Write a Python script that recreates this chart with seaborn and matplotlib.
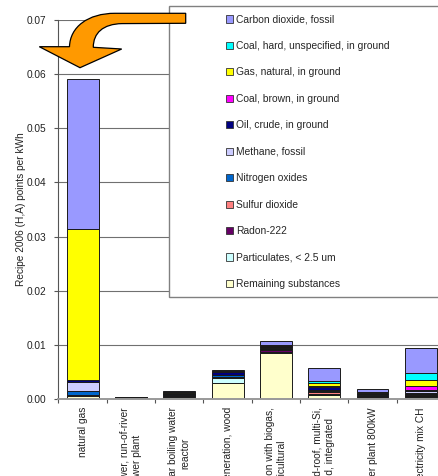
import numpy as np
import pandas as pd
import matplotlib
matplotlib.use("Agg")
import matplotlib.pyplot as plt
from matplotlib.patches import Patch, Rectangle, PathPatch
from matplotlib.path import Path
from matplotlib.ticker import FormatStrFormatter
import seaborn as sns

# Electricity supply options
categories = [
    "natural gas",
    "hydropower, run-of-river\npower plant",
    "nuclear boiling water\nreactor",
    "cogeneration, wood",
    "cogeneration with biogas,\nagricultural",
    "PV, 3kWp slanted-roof, multi-Si,\npanel, mounted, integrated",
    "wind power plant 800kW",
    "electricity mix CH",
]

# Substances, listed from top of the stack to the bottom
substances = [
    "Carbon dioxide, fossil",
    "Coal, hard, unspecified, in ground",
    "Gas, natural, in ground",
    "Coal, brown, in ground",
    "Oil, crude, in ground",
    "Methane, fossil",
    "Nitrogen oxides",
    "Sulfur dioxide",
    "Radon-222",
    "Particulates, < 2.5 um",
    "Remaining substances",
]
colors = ["#9999FF", "#00FFFF", "#FFFF00", "#FF00FF", "#000080", "#CCCCFF",
          "#0066CC", "#FF8080", "#660066", "#CCFFFF", "#FFFFCC"]

# ReCiPe 2006 (H,A) points per kWh, per substance and supply option
co2          = [0.02765, 0.00006, 0.00024, 0.0002, 0.0007, 0.00237, 0.0005, 0.0047]
coal_hard    = [0.00005, 0.00003, 0.00005, 0.00005, 0.00004, 0.0003, 0.00005, 0.0012]
gas_natural  = [0.02795, 0.00004, 0.00005, 0.00005, 0.00004, 0.0006, 0.00005, 0.00118]
coal_brown   = [0.00003, 0.00002, 0.00004, 0.00002, 0.0002, 0.0002, 0.0001, 0.00068]
oil_crude    = [0.0003, 0.00006, 0.00015, 0.0006, 0.0002, 0.00045, 0.0002, 0.00025]
methane      = [0.0016, 0.00003, 0.00008, 0.00005, 0.0002, 0.0002, 0.00015, 0.0002]
nox          = [0.0008, 0.00004, 0.0001, 0.0004, 0.0002, 0.00025, 0.00015, 0.0002]
so2          = [0.0001, 0.00003, 0.0001, 0.0001, 0.0002, 0.0003, 0.00015, 0.0002]
radon        = [0.00002, 0.00002, 0.0002, 0.00002, 0.0002, 0.00005, 0.00005, 0.0003]
particulates = [0.0001, 0.00003, 0.0001, 0.001, 0.0002, 0.0002, 0.00015, 0.0002]
remaining    = [0.0005, 0.00006, 0.0004, 0.0029, 0.00857, 0.00074, 0.00025, 0.0003]

series = [co2, coal_hard, gas_natural, coal_brown, oil_crude, methane,
          nox, so2, radon, particulates, remaining]

rows = []
for cat_i, cat in enumerate(categories):
    for sub, vals in zip(substances, series):
        rows.append({"option": cat, "substance": sub, "points": vals[cat_i]})
df = pd.DataFrame(rows)

sns.set_style("white")
plt.rcParams["font.family"] = ["Liberation Sans", "DejaVu Sans"]

W, H = 439, 476
fig = plt.figure(figsize=(W / 100, H / 100), dpi=100)
ax = fig.add_axes([58.5 / W, 1 - 399 / H, 386.5 / W, 379 / H])

sns.histplot(
    data=df, x="option", weights="points", hue="substance",
    hue_order=substances, palette=colors, multiple="stack",
    discrete=True, shrink=0.66, alpha=1, edgecolor="#1a1a1a",
    linewidth=0.7, legend=False, ax=ax,
)

ax.set_xlim(-0.5, 7.5)
ax.set_ylim(0, 0.07)
ax.set_yticks(np.arange(0, 0.0701, 0.01))
ax.yaxis.set_major_formatter(FormatStrFormatter("%.2f"))
ax.yaxis.grid(True, color="#707070", linewidth=0.8)
ax.set_axisbelow(True)

ax.set_xticks(range(len(categories)))
ax.set_xticklabels(categories, rotation=90, ha="center", va="top",
                   fontsize=7.3, color="#222222")
ax.set_xticks(np.arange(-0.5, len(categories), 1), minor=True)
ax.tick_params(axis="x", which="major", length=0, pad=5.8)
ax.tick_params(axis="x", which="minor", length=3, width=0.8,
               color="#555555", direction="out", bottom=True)
ax.tick_params(axis="y", length=3, width=0.8, color="#555555",
               direction="out", left=True, pad=6, labelsize=7.3,
               labelcolor="#222222")

for side in ("top", "right"):
    ax.spines[side].set_visible(False)
ax.spines["left"].set_color("#555555")
ax.spines["left"].set_linewidth(0.8)
ax.spines["bottom"].set_color("#999999")
ax.spines["bottom"].set_linewidth(1.4)

ax.set_xlabel("")
ax.set_ylabel("Recipe 2006 (H,A) points per kWh", fontsize=7.3,
              color="#222222")
ax.yaxis.set_label_coords(-0.083, 0.5)


def fig_xy(x, y):
    return (x / W, 1 - y / H)


# Legend box
box = Rectangle(fig_xy(169, 297), (480 - 169) / W, (297 - 5.5) / H,
                transform=fig.transFigure, facecolor="white",
                edgecolor="#808080", linewidth=1, zorder=3)
fig.add_artist(box)

handles = [Patch(facecolor=c, edgecolor="#333333", linewidth=0.6)
           for c in colors]
fig.legend(handles, substances, loc="upper left",
           bbox_to_anchor=fig_xy(225.7, 14.6), frameon=False,
           fontsize=7.4, handlelength=0.68, handleheight=0.68,
           handletextpad=0.32, labelspacing=1.6, borderpad=0,
           borderaxespad=0)

# Curved pointer onto the first column
verts = [
    (185.7, 13.3), (115, 13.3),
    (88, 13.3), (70, 27), (69.5, 46.7),
    (39.3, 46.7), (80, 67.7), (121.7, 49), (93.3, 47.3),
    (93.3, 33), (103, 24), (122, 23.6),
    (185.7, 23.3), (185.7, 13.3),
]
codes = [Path.MOVETO, Path.LINETO,
         Path.CURVE4, Path.CURVE4, Path.CURVE4,
         Path.LINETO, Path.LINETO, Path.LINETO, Path.LINETO,
         Path.CURVE4, Path.CURVE4, Path.CURVE4,
         Path.LINETO, Path.CLOSEPOLY]
arrow = PathPatch(Path([fig_xy(x, y) for x, y in verts], codes),
                  transform=fig.transFigure, facecolor="#FF9900",
                  edgecolor="black", linewidth=0.9, zorder=6)
fig.add_artist(arrow)

fig.savefig("out.png", dpi=100)
